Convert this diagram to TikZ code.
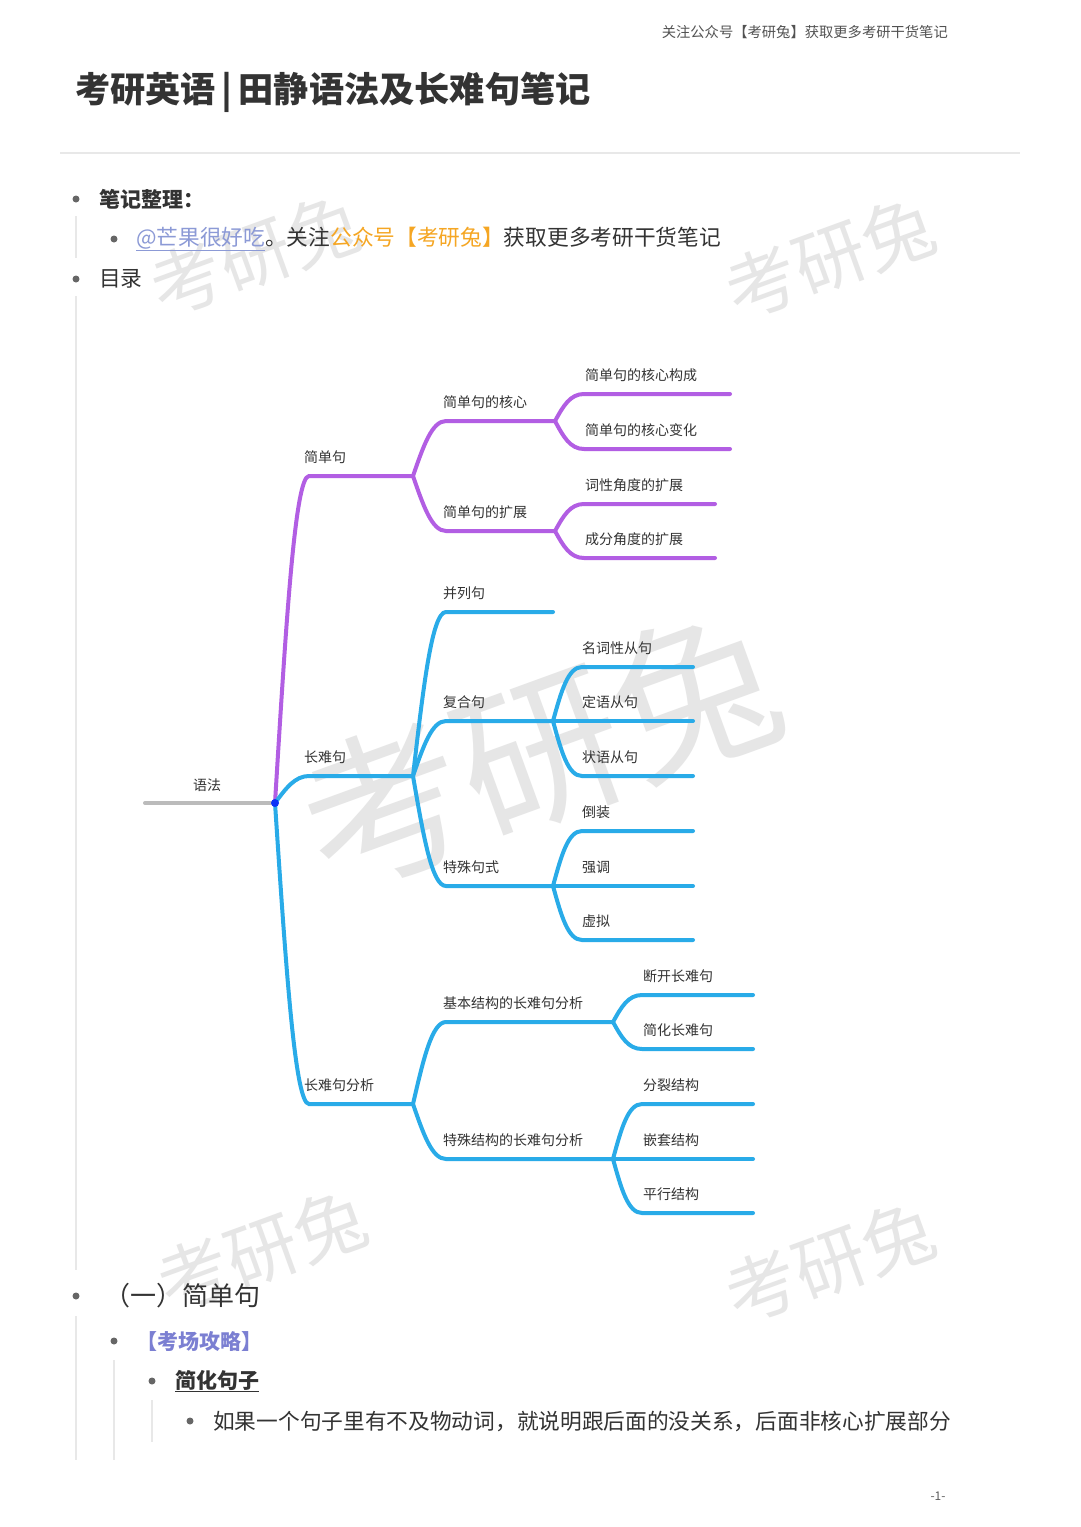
\documentclass[tikz,border=0pt]{standalone}
\usepackage{fontspec}
\setmainfont{Noto Sans CJK SC}
\usetikzlibrary{calc}
\definecolor{mmpurple}{HTML}{B25EE3}
\definecolor{mmblue}{HTML}{29ABE8}
\definecolor{mmgray}{HTML}{BBBBBB}
\definecolor{txt}{HTML}{333333}
\definecolor{rulec}{HTML}{E8E8E8}
\definecolor{linkc}{HTML}{8C9AD6}
\definecolor{orangec}{HTML}{F5A623}
\definecolor{tipc}{HTML}{7B7FD2}
\definecolor{wmc}{HTML}{E6E6E6}
\definecolor{bulc}{HTML}{666666}
\newcommand{\mmbranch}[4]{\draw[mmline,#1] (#2) .. controls ($(#2)!0.55!(#3)$) and (#3) .. ($(#3)+(14,0)$) -- (#4);}
\tikzset{
  mmline/.style={line width=4, line cap=round},
  lbl/.style={anchor=west, inner sep=0, text=txt, font=\fontsize{14}{14}\selectfont},
  body/.style={anchor=west, inner sep=0, text=txt, font=\fontsize{21.7}{21.7}\selectfont},
  bul/.style={circle, fill=bulc, inner sep=0, minimum size=7},
  guide/.style={draw=rulec, line width=1.5},
  wmark/.style={text=wmc, inner sep=0, rotate=20},
}
\begin{document}
\begin{tikzpicture}[x=1pt,y=-1pt]
\useasboundingbox (0,0) rectangle (1080,1527);
\fill[white] (0,0) rectangle (1080,1527);

% watermarks
\node[wmark, font=\fontsize{72}{72}\selectfont] (wm1) at (255,255) {考研兔};
\node[wmark, font=\fontsize{72}{72}\selectfont] (wm2) at (830,258) {考研兔};
\node[wmark, font=\fontsize{165}{165}\selectfont] (wm3) at (540,750) {考研兔};
\node[wmark, font=\fontsize{72}{72}\selectfont] (wm4) at (262,1250) {考研兔};
\node[wmark, font=\fontsize{72}{72}\selectfont] (wm5) at (830,1262) {考研兔};

% header
\node[anchor=east, inner sep=0, text=txt!85, font=\fontsize{14.3}{14.3}\selectfont] (hdr) at (948,32) {关注公众号【考研兔】获取更多考研干货笔记};
\node[anchor=west, inner sep=0, text=txt, font=\fontsize{35.2}{35.2}\selectfont\bfseries] (title) at (75,92) {考研英语\,|\,田静语法及长难句笔记};
\coordinate (ruleL) at (60,153); \coordinate (ruleR) at (1020,153);
\draw[rulec, line width=1.5] (ruleL) -- (ruleR);

% top bullets
\node[bul] (b1) at (76,199) {};
\node[body, font=\fontsize{21}{21}\selectfont\bfseries] (t1) at (99,199) {笔记整理：};
\coordinate (g1a) at (76,216); \coordinate (g1b) at (76,258);
\draw[guide] (g1a) -- (g1b);
\node[bul] (b2) at (114,239) {};
\node[body] (t2) at (136,239) {\textcolor{linkc}{\underline{@芒果很好吃}}。关注\textcolor{orangec}{公众号【考研兔】}获取更多考研干货笔记};
\node[bul] (b3) at (76,279) {};
\node[body] (t3) at (99,279) {目录};
\coordinate (g2a) at (76,296); \coordinate (g2b) at (76,1270);
\draw[guide] (g2a) -- (g2b);

% ---------- mind map ----------
\coordinate (root) at (275,803);
\coordinate (rootL) at (145,803);
\coordinate (k1) at (295,476); \coordinate (e1) at (413,476);
\coordinate (k2) at (295,776); \coordinate (e2) at (413,776);
\coordinate (k3) at (295,1104); \coordinate (e3) at (413,1104);
\coordinate (k11) at (432,421); \coordinate (e11) at (555,421);
\coordinate (k12) at (432,531); \coordinate (e12) at (555,531);
\coordinate (k21) at (432,612); \coordinate (e21) at (553,612);
\coordinate (k22) at (432,721); \coordinate (e22) at (553,721);
\coordinate (k23) at (432,886); \coordinate (e23) at (553,886);
\coordinate (k31) at (432,1022); \coordinate (e31) at (613,1022);
\coordinate (k32) at (432,1159); \coordinate (e32) at (613,1159);
\coordinate (k111) at (570,394); \coordinate (e111) at (730,394);
\coordinate (k112) at (570,449); \coordinate (e112) at (730,449);
\coordinate (k121) at (570,504); \coordinate (e121) at (715,504);
\coordinate (k122) at (570,558); \coordinate (e122) at (715,558);
\coordinate (k221) at (568,667); \coordinate (e221) at (693,667);
\coordinate (k222) at (568,721); \coordinate (e222) at (693,721);
\coordinate (k223) at (568,776); \coordinate (e223) at (693,776);
\coordinate (k231) at (568,831); \coordinate (e231) at (693,831);
\coordinate (k232) at (568,886); \coordinate (e232) at (693,886);
\coordinate (k233) at (568,940); \coordinate (e233) at (693,940);
\coordinate (k311) at (628,995); \coordinate (e311) at (753,995);
\coordinate (k312) at (628,1049); \coordinate (e312) at (753,1049);
\coordinate (k321) at (628,1104); \coordinate (e321) at (753,1104);
\coordinate (k322) at (628,1159); \coordinate (e322) at (753,1159);
\coordinate (k323) at (628,1213); \coordinate (e323) at (753,1213);

\draw[mmline, mmgray] (rootL) -- (root);

% purple
\mmbranch{mmpurple}{root}{k1}{e1}
\mmbranch{mmpurple}{e1}{k11}{e11}
\mmbranch{mmpurple}{e1}{k12}{e12}
\mmbranch{mmpurple}{e11}{k111}{e111}
\mmbranch{mmpurple}{e11}{k112}{e112}
\mmbranch{mmpurple}{e12}{k121}{e121}
\mmbranch{mmpurple}{e12}{k122}{e122}
% blue
\mmbranch{mmblue}{root}{k2}{e2}
\mmbranch{mmblue}{root}{k3}{e3}
\mmbranch{mmblue}{e2}{k21}{e21}
\mmbranch{mmblue}{e2}{k22}{e22}
\mmbranch{mmblue}{e2}{k23}{e23}
\mmbranch{mmblue}{e22}{k221}{e221}
\mmbranch{mmblue}{e22}{k222}{e222}
\mmbranch{mmblue}{e22}{k223}{e223}
\mmbranch{mmblue}{e23}{k231}{e231}
\mmbranch{mmblue}{e23}{k232}{e232}
\mmbranch{mmblue}{e23}{k233}{e233}
\mmbranch{mmblue}{e3}{k31}{e31}
\mmbranch{mmblue}{e3}{k32}{e32}
\mmbranch{mmblue}{e31}{k311}{e311}
\mmbranch{mmblue}{e31}{k312}{e312}
\mmbranch{mmblue}{e32}{k321}{e321}
\mmbranch{mmblue}{e32}{k322}{e322}
\mmbranch{mmblue}{e32}{k323}{e323}
\fill[blue!70!mmblue] (root) circle (4);

% labels
\node[lbl, anchor=center] (n0) at (207,785) {语法};
\node[lbl] (n1) at (304,457) {简单句};
\node[lbl] (n2) at (304,757) {长难句};
\node[lbl] (n3) at (304,1085) {长难句分析};
\node[lbl] (n11) at (443,402) {简单句的核心};
\node[lbl] (n12) at (443,512) {简单句的扩展};
\node[lbl] (n21) at (443,593) {并列句};
\node[lbl] (n22) at (443,702) {复合句};
\node[lbl] (n23) at (443,867) {特殊句式};
\node[lbl] (n31) at (443,1003) {基本结构的长难句分析};
\node[lbl] (n32) at (443,1140) {特殊结构的长难句分析};
\node[lbl] (n111) at (585,375) {简单句的核心构成};
\node[lbl] (n112) at (585,430) {简单句的核心变化};
\node[lbl] (n121) at (585,485) {词性角度的扩展};
\node[lbl] (n122) at (585,539) {成分角度的扩展};
\node[lbl] (n221) at (582,648) {名词性从句};
\node[lbl] (n222) at (582,702) {定语从句};
\node[lbl] (n223) at (582,757) {状语从句};
\node[lbl] (n231) at (582,812) {倒装};
\node[lbl] (n232) at (582,867) {强调};
\node[lbl] (n233) at (582,921) {虚拟};
\node[lbl] (n311) at (643,976) {断开长难句};
\node[lbl] (n312) at (643,1030) {简化长难句};
\node[lbl] (n321) at (643,1085) {分裂结构};
\node[lbl] (n322) at (643,1140) {嵌套结构};
\node[lbl] (n323) at (643,1194) {平行结构};

% ---------- bottom section ----------
\node[bul] (b4) at (76,1296) {};
\node[body, font=\fontsize{26}{26}\selectfont] (t4) at (104,1296) {（一）简单句};
\coordinate (g3a) at (76,1316); \coordinate (g3b) at (76,1460);
\draw[guide] (g3a) -- (g3b);
\node[bul] (b5) at (114,1341) {};
\node[body, font=\fontsize{21}{21}\selectfont\bfseries, text=tipc] (t5) at (136,1341) {【考场攻略】};
\coordinate (g4a) at (114,1360); \coordinate (g4b) at (114,1460);
\draw[guide] (g4a) -- (g4b);
\node[bul] (b6) at (152,1381) {};
\node[body, font=\fontsize{21}{21}\selectfont\bfseries] (t6) at (175,1381) {\underline{简化句子}};
\coordinate (g5a) at (152,1400); \coordinate (g5b) at (152,1442);
\draw[guide] (g5a) -- (g5b);
\node[bul] (b7) at (190,1421) {};
\node[body] (t7) at (213,1421) {如果一个句子里有不及物动词，就说明跟后面的没关系，后面非核心扩展部分};

\node[anchor=center, inner sep=0, text=txt!80, font=\fontsize{12}{12}\selectfont] (pg) at (938,1496) {-1-};
\end{tikzpicture}
\end{document}
